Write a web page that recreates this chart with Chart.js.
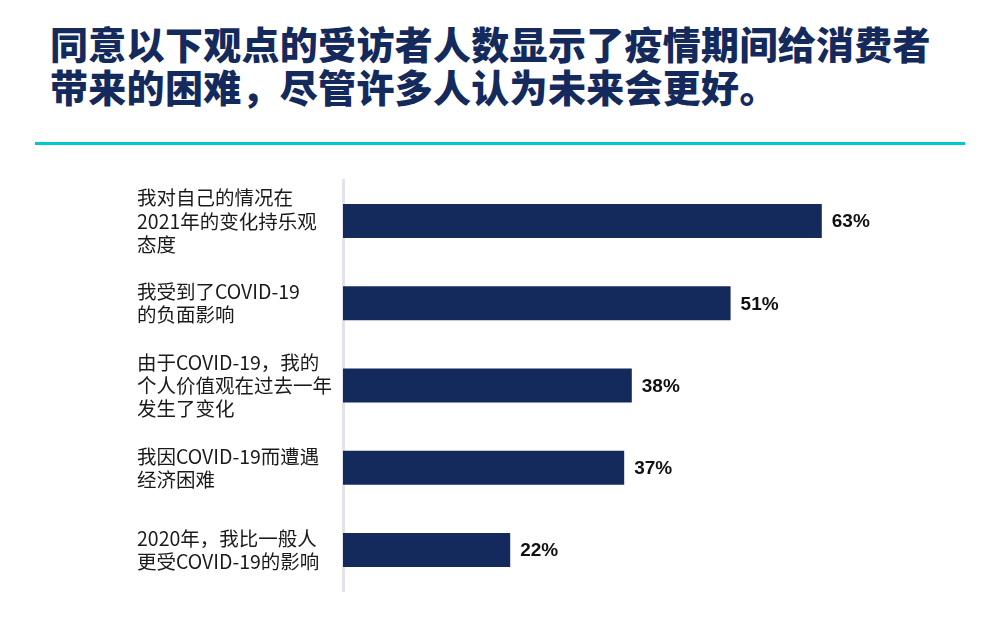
<!DOCTYPE html>
<html>
<head>
<meta charset="utf-8">
<script src="https://cdn.jsdelivr.net/npm/chart.js@4/dist/chart.umd.min.js"></script>
<style>
    html, body { margin: 0; padding: 0; background: #fff; }
    .page { position: relative; width: 1000px; height: 620px; overflow: hidden; }
    .title {
        position: absolute; left: 50px; top: 21px;
        font-family: 'Noto Sans CJK SC', sans-serif; font-weight: 900;
        font-size: 38px; letter-spacing: 0.3px; line-height: 43px; color: #152a5c;
        white-space: nowrap;
    }
    .rule { position: absolute; left: 35px; top: 142px; width: 930px; height: 3px; background: #00c8cc; }
    .chart-box { position: absolute; left: 0; top: 0; width: 1000px; height: 620px; }
</style>
</head>
<body>
<div class="page">
    <div class="title">同意以下观点的受访者人数显示了疫情期间给消费者<br>带来的困难，尽管许多人认为未来会更好。</div>
    <div class="rule"></div>
    <div class="chart-box"><canvas id="barChart"></canvas></div>
</div>
<script>
// ─── 数据 ───
const categories = [
    ['我对自己的情况在', '2021年的变化持乐观', '态度'],
    ['我受到了COVID-19', '的负面影响'],
    ['由于COVID-19，我的', '个人价值观在过去一年', '发生了变化'],
    ['我因COVID-19而遭遇', '经济困难'],
    ['2020年，我比一般人', '更受COVID-19的影响']
];
const values = [63, 51, 38, 37, 22];
const valueLabels = ['63%', '51%', '38%', '37%', '22%'];

const navy = '#152a5c';

// bar end labels
const valueLabelPlugin = {
    id: 'valueLabels',
    afterDatasetsDraw(chart) {
        const { ctx } = chart;
        const meta = chart.getDatasetMeta(0);
        ctx.save();
        ctx.font = 'bold 19px "Liberation Sans", Arial, sans-serif';
        ctx.fillStyle = '#111';
        ctx.textAlign = 'left';
        ctx.textBaseline = 'middle';
        meta.data.forEach((bar, i) => {
            ctx.fillText(valueLabels[i], bar.x + 10, bar.y + 1);
        });
        ctx.restore();
    }
};

new Chart(document.getElementById('barChart').getContext('2d'), {
    type: 'bar',
    data: {
        labels: categories,
        datasets: [{
            data: values,
            backgroundColor: navy,
            borderWidth: 0,
            barPercentage: 1,
            categoryPercentage: 0.414
        }]
    },
    options: {
        indexAxis: 'y',
        responsive: true,
        maintainAspectRatio: false,
        animation: false,
        layout: { padding: { top: 180, bottom: 29, left: 137, right: 49 } },
        scales: {
            x: { display: false, min: 0, max: 80 },
            y: {
                afterFit: s => {
                    s.width = 206;
                    // keep label height from pushing the plot area
                    s.paddingTop = 0;
                    s.paddingBottom = 0;
                },
                grid: { display: false },
                border: { display: true, color: '#e2e2e8', width: 3 },
                ticks: {
                    autoSkip: false,
                    crossAlign: 'far',
                    color: '#1a1a1a',
                    font: { family: '"Noto Sans CJK SC", sans-serif', size: 19.5, lineHeight: 1.18 }
                }
            }
        },
        plugins: {
            legend: { display: false },
            tooltip: { enabled: false }
        }
    },
    plugins: [valueLabelPlugin]
});
</script>
</body>
</html>
